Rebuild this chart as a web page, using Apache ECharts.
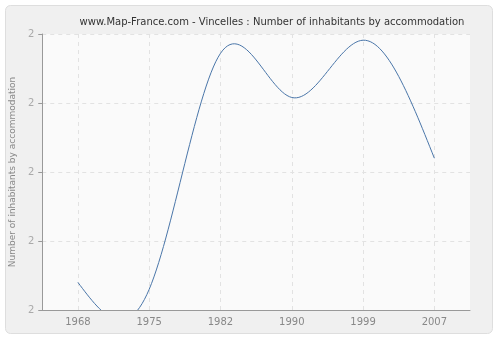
<!DOCTYPE html>
<html>
<head>
<meta charset="utf-8">
<script src="https://cdn.jsdelivr.net/npm/echarts@6/dist/echarts.min.js"></script>
<style>html,body{margin:0;padding:0;background:#fff}#c{width:500px;height:340px}</style>
</head>
<body>
<div id="c"></div>
<script>
var years = ['1968', '1975', '1982', '1990', '1999', '2007'];
var values = [1.840, 1.830, 2.172, 2.108, 2.191, 2.020];
var yTickLabels = ['2', '2', '2', '2', '2'];
var titleText = 'www.Map-France.com - Vincelles : Number of inhabitants by accommodation';
var yName = 'Number of inhabitants by accommodation';

// natural cubic spline through pixel points (uniform x spacing)
function splinePoints(pts, steps) {
  var n = pts.length;
  if (n < 3) return pts;
  var y = pts.map(function (p) { return p[1]; });
  var M = new Array(n).fill(0);
  var m = n - 2, a = [], b = [], c = [], d = [];
  for (var i = 0; i < m; i++) {
    a.push(i === 0 ? 0 : 1); b.push(4); c.push(i === m - 1 ? 0 : 1);
    d.push(6 * (y[i] - 2 * y[i + 1] + y[i + 2]));
  }
  for (var i = 1; i < m; i++) {
    var w = a[i] / b[i - 1];
    b[i] -= w * c[i - 1]; d[i] -= w * d[i - 1];
  }
  var sol = new Array(m);
  sol[m - 1] = d[m - 1] / b[m - 1];
  for (var i = m - 2; i >= 0; i--) sol[i] = (d[i] - c[i] * sol[i + 1]) / b[i];
  for (var i = 0; i < m; i++) M[i + 1] = sol[i];
  var out = [];
  for (var i = 0; i < n - 1; i++) {
    var dy = y[i + 1] - y[i];
    for (var s = 0; s <= steps; s++) {
      if (i > 0 && s === 0) continue;
      var t = s / steps;
      var yy = y[i] + t * (dy - (2 * M[i] + M[i + 1]) / 6) + M[i] / 2 * t * t + (M[i + 1] - M[i]) / 6 * t * t * t;
      var xx = pts[i][0] + (pts[i + 1][0] - pts[i][0]) * t;
      out.push([xx, yy]);
    }
  }
  return out;
}

var chart = echarts.init(document.getElementById('c'), null, {renderer: 'canvas'});
var font = 'DejaVu Sans';
chart.setOption({
  animation: false,
  backgroundColor: '#ffffff',
  graphic: [{
    type: 'rect', z: -10, silent: true,
    shape: {x: 5.5, y: 5.5, width: 487, height: 328, r: 5},
    style: {fill: '#f0f0f0', stroke: '#dedede', lineWidth: 1}
  }],
  title: {
    text: titleText, left: 267, top: 12, textAlign: 'center',
    textStyle: {fontFamily: font, fontSize: 10, fontWeight: 'normal', color: '#333'}
  },
  grid: {left: 40, right: 30, top: 34, bottom: 30, show: true, backgroundColor: '#fafafa', borderWidth: 0},
  xAxis: {
    type: 'category', data: years, boundaryGap: true,
    axisLine: {lineStyle: {color: '#999'}},
    axisTick: {alignWithLabel: true, length: 5, lineStyle: {color: '#999'}},
    axisLabel: {fontFamily: font, fontSize: 10, color: '#888', margin: 7},
    splitLine: {show: true, alignWithLabel: true, lineStyle: {color: '#e2e2e2', type: [4, 4]}}
  },
  yAxis: {
    type: 'value', min: 1.8, max: 2.2, interval: 0.1,
    name: yName, nameLocation: 'middle', nameGap: 23,
    nameTextStyle: {fontFamily: font, fontSize: 9, color: '#888'},
    axisLine: {show: true, lineStyle: {color: '#999'}},
    axisTick: {show: true, length: 4, lineStyle: {color: '#999'}},
    axisLabel: {fontFamily: font, fontSize: 10, color: '#aaa', margin: 8,
      formatter: function (v) { var i = Math.round((v - 1.8) / 0.1); return yTickLabels[i] || ''; }},
    splitLine: {show: true, lineStyle: {color: '#e2e2e2', type: [4, 4]}}
  },
  series: [{
    type: 'custom', clip: true,
    data: values.map(function (v, i) { return [i, v]; }),
    renderItem: function (params, api) {
      if (params.dataIndex !== 0) return null;
      var pts = values.map(function (v, i) { return api.coord([i, v]); });
      return {
        type: 'polyline',
        shape: {points: splinePoints(pts, 30)},
        style: {stroke: '#4a76a9', lineWidth: 1, fill: null}
      };
    }
  }]
});
</script>
</body>
</html>
